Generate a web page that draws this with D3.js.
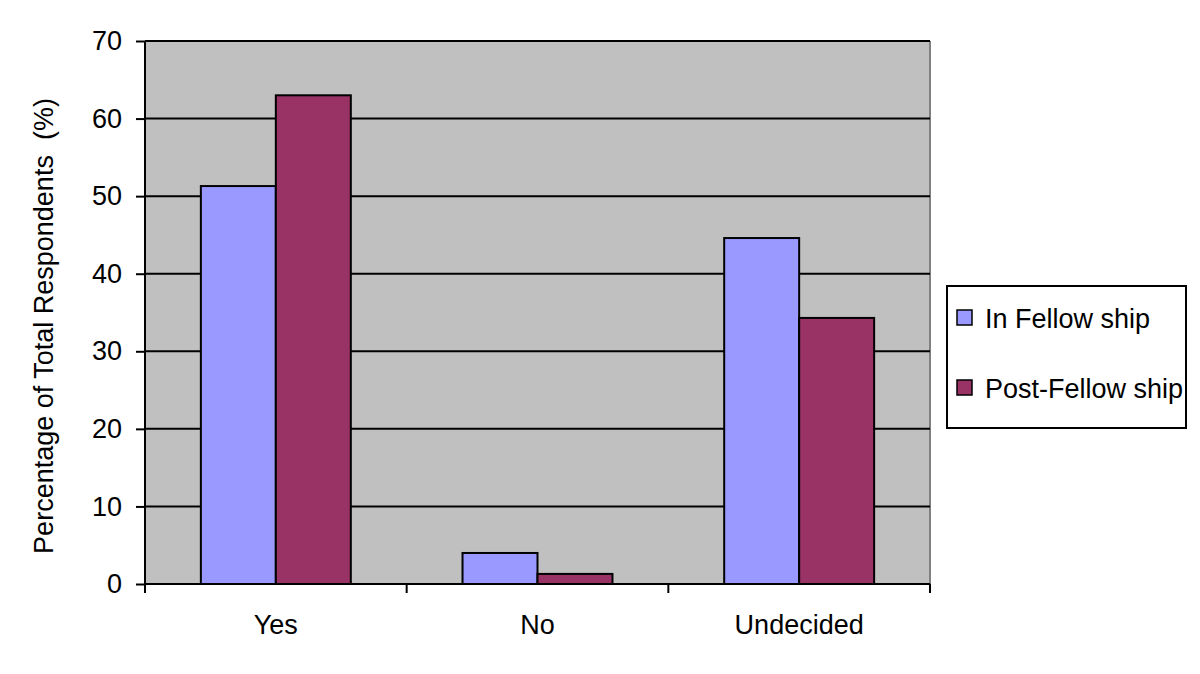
<!DOCTYPE html>
<html><head><meta charset="utf-8">
<script src="https://cdn.jsdelivr.net/npm/d3@7"></script>
<style>body{margin:0;background:#fff}svg{display:block}</style>
</head><body>
<svg id="c" width="1200" height="674"></svg>
<script>
const categories = ["Yes", "No", "Undecided"];
const seriesNames = ["In Fellow ship", "Post-Fellow ship"];
const inFellowship = [51.3, 4.0, 44.6];
const postFellowship = [63.0, 1.3, 34.3];
const yTicks = [0, 10, 20, 30, 40, 50, 60, 70];
const colors = ["#9999ff", "#993366"];

const svg = d3.select("#c");
const font = "'Liberation Sans', Arial, sans-serif";
const FS = 27;
const L = 145, R = 930, T = 41, B = 584;

const x = d3.scaleBand().domain(categories).range([L, R]).paddingInner(0).paddingOuter(0);
const xs = d3.scaleBand().domain(seriesNames).range([0, x.bandwidth()]).paddingInner(0).paddingOuter(0.745);
const y = d3.scaleLinear().domain([0, 70]).range([B, T]);

svg.append("rect").attr("x", L).attr("y", T).attr("width", R - L).attr("height", B - T).attr("fill", "#c0c0c0");
svg.append("line").attr("x1", R).attr("x2", R).attr("y1", T).attr("y2", B).attr("stroke", "#808080").attr("stroke-width", 2);

// gridlines
svg.append("g").selectAll("line").data(yTicks.filter(d => d > 0)).join("line")
  .attr("x1", L).attr("x2", R).attr("y1", d => y(d)).attr("y2", d => y(d))
  .attr("stroke", "#000").attr("stroke-width", 2);

// bars
const data = categories.map((c, i) => ({c, vals: [inFellowship[i], postFellowship[i]]}));
const g = svg.append("g").selectAll("g").data(data).join("g").attr("transform", d => `translate(${x(d.c)},0)`);
g.selectAll("rect").data(d => d.vals.map((v, j) => ({v, s: seriesNames[j], j}))).join("rect")
  .attr("x", d => xs(d.s)).attr("width", xs.bandwidth())
  .attr("y", d => y(d.v)).attr("height", d => y(0) - y(d.v))
  .attr("fill", d => colors[d.j]).attr("stroke", "#000").attr("stroke-width", 2);

// y axis
const ya = svg.append("g").attr("transform", `translate(${L},0)`)
  .call(d3.axisLeft(y).tickValues(yTicks).tickSize(9).tickPadding(14).tickFormat(d3.format("d")));
ya.select(".domain").attr("stroke-width", 2).attr("d", `M0,${T}V${B}`);
ya.selectAll(".tick line").attr("stroke-width", 2);
ya.selectAll("text").attr("font-family", font).attr("font-size", FS).attr("fill", "#000");

// x axis
const xa = svg.append("g").attr("transform", `translate(0,${B})`)
  .call(d3.axisBottom(x).tickSize(0).tickPadding(31));
xa.select(".domain").attr("stroke-width", 2).attr("d", `M${L},0H${R}`);
xa.selectAll("text").attr("font-family", font).attr("font-size", FS).attr("fill", "#000");
const bounds = [L].concat(categories.map(c => x(c) + x.bandwidth()));
xa.selectAll(".bnd").data(bounds).join("line").attr("class", "bnd")
  .attr("x1", d => d).attr("x2", d => d).attr("y1", 0).attr("y2", 9)
  .attr("stroke", "#000").attr("stroke-width", 2);

// y title
svg.append("text").attr("transform", `translate(53,326) rotate(-90)`)
  .attr("text-anchor", "middle").attr("font-family", font).attr("font-size", FS)
  .attr("xml:space", "preserve").style("white-space", "pre")
  .text("Percentage of Total Respondents  (%)");

// legend
const lg = svg.append("g");
lg.append("rect").attr("x", 947).attr("y", 286).attr("width", 239).attr("height", 142)
  .attr("fill", "#fff").attr("stroke", "#000").attr("stroke-width", 2);
const items = lg.selectAll("g").data(seriesNames).join("g")
  .attr("transform", (d, i) => `translate(957,${310 + i * 70})`);
items.append("rect").attr("width", 15).attr("height", 15)
  .attr("fill", (d, i) => colors[i]).attr("stroke", "#000").attr("stroke-width", 1.5);
items.append("text").attr("x", 28).attr("y", 18).attr("font-family", font).attr("font-size", FS).text(d => d);
</script>
</body></html>
